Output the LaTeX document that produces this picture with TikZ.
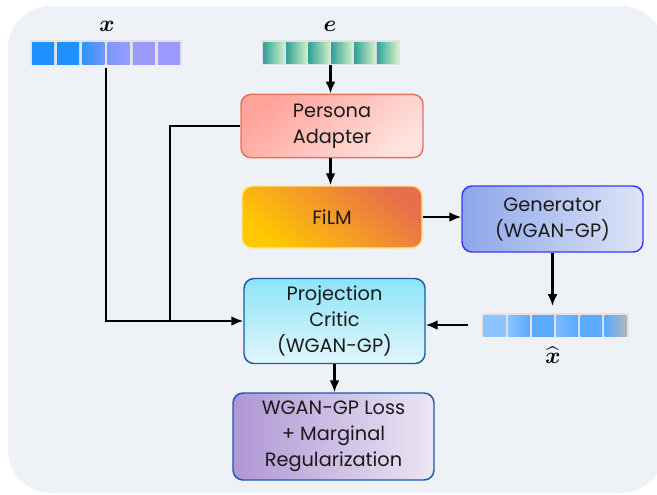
\documentclass[tikz,border=0pt]{standalone}
\usepackage{fontspec}
\setmainfont{Poppins}
\usepackage{amsmath}
\usetikzlibrary{arrows.meta}
\tikzset{>={Latex[length=9pt,width=7.5pt]}}
\definecolor{bgcol}{RGB}{238,241,246}
\definecolor{framecol}{RGB}{226,226,228}
\definecolor{dodger}{RGB}{30,144,255}
\definecolor{lavender}{RGB}{155,155,255}
\definecolor{teal1}{RGB}{52,160,154}
\definecolor{green1}{RGB}{64,152,84}
\definecolor{green2}{RGB}{204,239,196}
\definecolor{sky1}{RGB}{140,196,255}
\definecolor{sky2}{RGB}{90,170,255}
\definecolor{grey1}{RGB}{180,180,186}
\definecolor{salmon1}{RGB}{255,163,154}
\definecolor{salmon2}{RGB}{255,226,222}
\definecolor{salmonline}{RGB}{232,112,95}
\definecolor{gold1}{RGB}{255,200,0}
\definecolor{orange1}{RGB}{232,110,76}
\definecolor{goldline}{RGB}{255,232,140}
\definecolor{gen1}{RGB}{140,166,234}
\definecolor{gen2}{RGB}{222,228,246}
\definecolor{genline}{RGB}{58,58,245}
\definecolor{cyan1}{RGB}{140,228,248}
\definecolor{cyan2}{RGB}{226,246,252}
\definecolor{navyline}{RGB}{26,92,168}
\definecolor{purple1}{RGB}{176,150,212}
\definecolor{purple2}{RGB}{236,230,244}
\definecolor{textcol}{RGB}{26,26,26}
\def\linethickness{1.8pt}

\tikzset{
  box/.style={rounded corners=7.5pt, draw, line width=1.1pt, align=center,
    inner sep=0pt, text=textcol, font=\fontsize{14.5}{19.5}\selectfont},
  cell/.style={draw=none},
  vecframe/.style={fill=framecol, draw=none, inner sep=0pt},
  lbl/.style={font=\fontsize{19}{20}\selectfont, inner sep=0pt},
  conn/.style={line width=\linethickness}
}

\begin{document}
\begin{tikzpicture}[x=0.75pt, y=-0.75pt]
    \useasboundingbox (0,0) rectangle (657,494);
    % background panel
    \fill[bgcol, rounded corners=32pt] (8,6) rectangle (664,493);

    % input vectors
    \node[vecframe, minimum width=113.6pt, minimum height=18.8pt] (xvec) at (105.8,52.6) {};
    \foreach \i/\ca/\cb in {0/dodger/dodger, 1/dodger/dodger, 2/dodger!85!lavender/dodger!35!lavender,
                            3/dodger!25!lavender/lavender, 4/lavender/lavender, 5/lavender/lavender}
        \shade[cell, left color=\ca, right color=\cb] (32+25.2*\i,42) rectangle +(22,22);
    \node[lbl] (xlab) at (107,26) {$\boldsymbol{x}$};

    \node[vecframe, minimum width=103.5pt, minimum height=18.8pt] (evec) at (330.5,52.6) {};
    \foreach \i in {0,...,5}
        \shade[cell, left color=teal1, middle color=green1, right color=green2] (263.3+22.7*\i,42) rectangle +(20.8,21.5);
    \node[lbl] (elab) at (330,26) {$\boldsymbol{e}$};

    % blocks
    \node[box, draw=salmonline, top color=salmon1, bottom color=salmon2, shading angle=40,
          minimum width=136.5pt, minimum height=47.5pt] (persona) at (332,126) {Persona\\Adapter};
    \node[box, draw=goldline, top color=orange1, bottom color=gold1, shading angle=-40,
          minimum width=135pt, minimum height=46.5pt] (film) at (332,217) {FiLM};
    \node[box, draw=genline, left color=gen1, right color=gen2,
          minimum width=135.75pt, minimum height=49.5pt] (gen) at (552.5,219) {Generator\\(WGAN-GP)};
    \node[box, draw=navyline, top color=cyan1, bottom color=cyan2,
          minimum width=135.75pt, minimum height=63.75pt] (critic) at (334.5,321) {Projection\\Critic\\(WGAN-GP)};
    \node[box, draw=navyline, left color=purple1, right color=purple2,
          minimum width=150.75pt, minimum height=65.25pt] (loss) at (333.5,436.5) {WGAN-GP Loss\\+ Marginal\\Regularization};

    % generated vector
    \node[vecframe, minimum width=110.5pt, minimum height=18pt] (xhatvec) at (555.3,325) {};
    \foreach \i/\ca/\cb in {0/sky1/sky1, 1/sky1/sky2, 2/sky2/sky2, 3/sky1!60!sky2/sky2,
                            4/sky2/sky2, 5/sky2/grey1}
        \shade[cell, left color=\ca, right color=\cb] (483.7+24.2*\i,315) rectangle +(21.7,21);
    \node[lbl] (xhatlab) at (553,355) {$\widehat{\boldsymbol{x}}$};

    % connectors
    \coordinate (join) at (170,321);
    \draw[conn, ->] (evec.south) -- (evec.south |- persona.north);
    \draw[conn, ->] (evec.south |- persona.south) -- (evec.south |- film.north);
    \draw[conn, ->] (film.east) -- (film.east -| gen.west);
    \draw[conn, ->, shorten >=5pt] (gen.south) -- (gen.south |- xhatvec.north);
    \draw[conn, ->, shorten <=10pt] (xhatvec.west) -- (xhatvec.west -| critic.east);
    \draw[conn, ->, shorten <=2pt] (xvec.south) -- (xvec.south |- critic.west) -- (critic.west);
    \draw[conn] (persona.west) -| (join);
    \draw[conn, ->] (critic.south) -- (critic.south |- loss.north);
\end{tikzpicture}
\end{document}
